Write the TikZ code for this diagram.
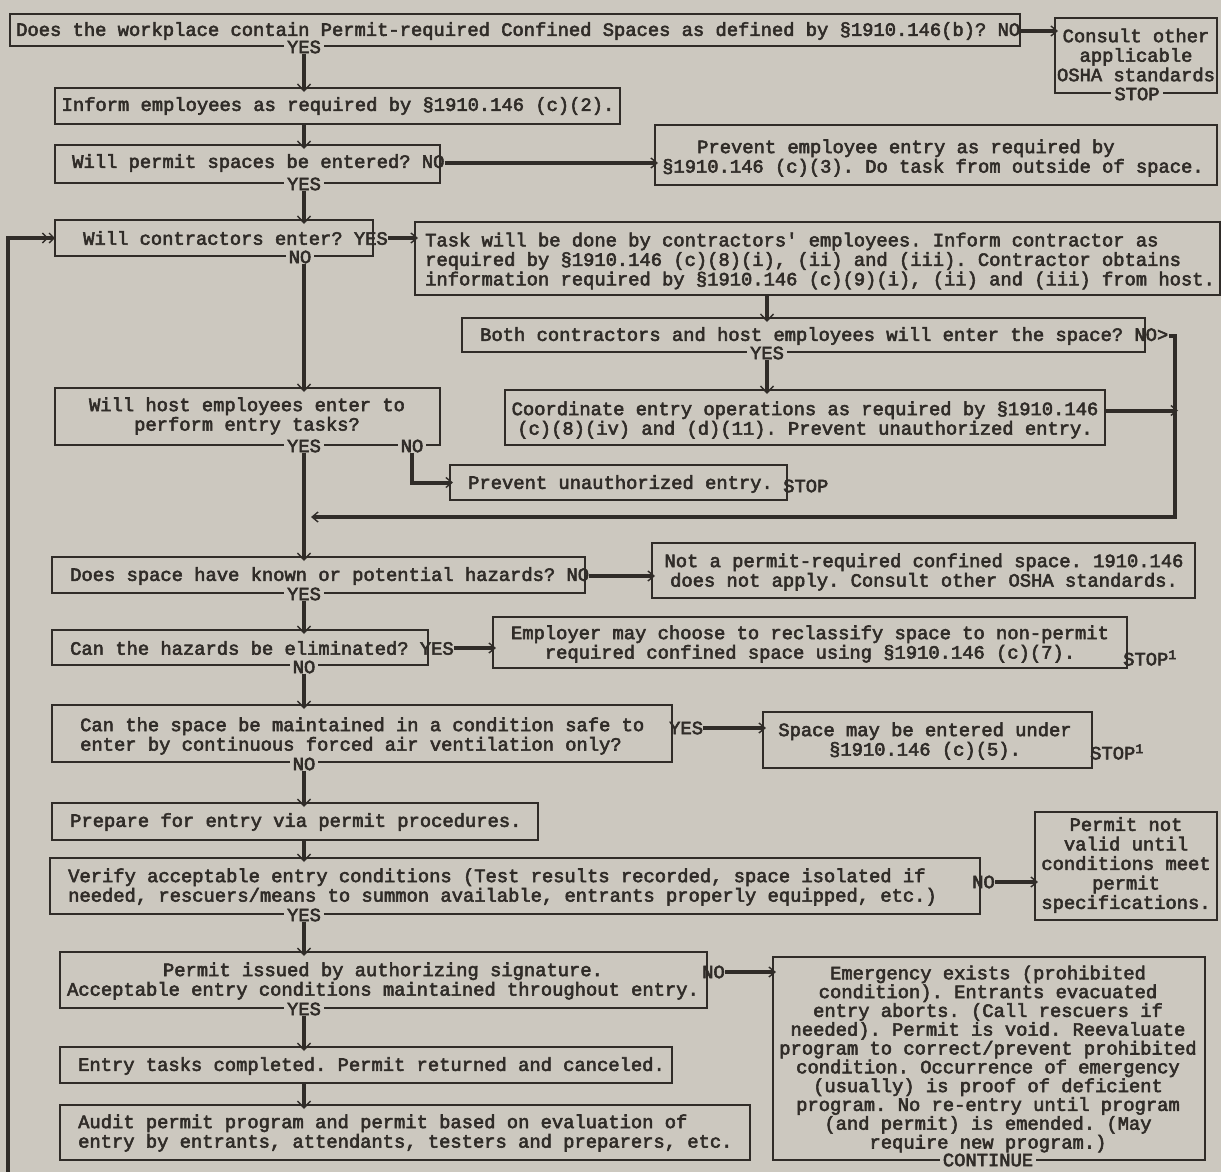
\documentclass[tikz,border=0pt]{standalone}
\usepackage{fontspec}
\usetikzlibrary{arrows.meta}
\newfontfamily\twfont{Liberation Mono}[FakeBold=3]
\definecolor{paper}{RGB}{204,200,191}
\definecolor{ink}{RGB}{48,44,40}
\newcommand\mkbox[5]{%
  \pgfmathsetlengthmacro\bxW{(#4)-(#2)}%
  \pgfmathsetlengthmacro\bxH{(#5)-(#3)}%
  \node[fbox, minimum width=\bxW, minimum height=\bxH] (#1) at ({((#2)+(#4))/2},{((#3)+(#5))/2}) {};}
\tikzset{
  fbox/.style={draw=ink, line width=1.8pt, inner sep=0pt, outer sep=0pt},
  txt/.style={font=\twfont\fontsize{18.8}{19.5}\selectfont\frenchspacing, text=ink, inner sep=0pt},
  tighttxt/.style={txt, font=\twfont\fontsize{18.8}{18.8}\selectfont\frenchspacing},
  lbl/.style={txt, fill=paper, inner xsep=3pt, inner ysep=0pt},
  vflow/.style={draw=ink, line width=3.5pt, -{Straight Barb[length=7pt,width=13pt,line width=1.4pt]}, shorten >=-4pt},
  hflow/.style={draw=ink, line width=4pt, -{Straight Barb[length=6pt,width=10pt,line width=1.4pt]}, shorten >=-3pt},
  retflow/.style={draw=ink, line width=3.5pt, -{Straight Barb[length=6pt,width=10pt,line width=1.4pt]}},
  loopflow/.style={draw=ink, line width=4pt, -{Straight Barb[length=5pt,width=10pt,line width=1.4pt] Straight Barb[length=5pt,width=10pt,line width=1.4pt]}},
}
\begin{document}
\begin{tikzpicture}[x=1pt,y=-1pt]
\useasboundingbox (0,0) rectangle (1221,1172);
\fill[paper] (0,0) rectangle (1221,1172);
\coordinate (sp) at (304,0);
\coordinate (sp2) at (767,0);
\coordinate (rc) at (1175,0);
\coordinate (ret) at (311,517);
\coordinate (lb) at (8,1172);

% ---- boxes and texts
\mkbox{q1}{10}{14}{1020}{46}
\node[txt, anchor=west] (q1t) at (16,31) {Does the workplace contain Permit-required Confined Spaces as defined by §1910.146(b)? NO};
\node[lbl] (yes1) at (304,47) {YES};

\mkbox{consult}{1055}{18}{1217}{93}
\node[txt, align=center] (consultt) at (1136,55) {Consult other\\applicable\\OSHA standards};
\node[lbl] (stop1) at (1137,94) {STOP};

\mkbox{inform}{55}{88}{620}{124}
\node[txt] (informt) at (338,106) {Inform employees as required by §1910.146 (c)(2).};

\mkbox{q2}{55}{145}{440}{183}
\node[txt, anchor=west] (q2t) at (72,163) {Will permit spaces be entered? NO};
\node[lbl] (yes2) at (304,184) {YES};

\mkbox{prevemp}{655}{125}{1217}{185}
\node[txt, anchor=west, align=left] (prevempt) at (662,158) {\hspace*{35pt}Prevent employee entry as required by\\§1910.146 (c)(3). Do task from outside of space.};

\mkbox{q3}{55}{220}{373}{256}
\node[txt, anchor=west] (q3t) at (83,238) {Will contractors enter? YES};
\node[lbl] (no3) at (300,257) {NO};

\mkbox{task}{415}{222}{1220}{295}
\node[txt, anchor=west, align=left] (taskt) at (425,261) {Task will be done by contractors' employees. Inform contractor as\\required by §1910.146 (c)(8)(i), (ii) and (iii). Contractor obtains\\information required by §1910.146 (c)(9)(i), (ii) and (iii) from host.};

\mkbox{both}{462}{318}{1145}{352}
\node[txt, anchor=west] (botht) at (480,336) {Both contractors and host employees will enter the space? NO>};
\node[lbl] (yes5) at (767,353) {YES};

\mkbox{coord}{505}{390}{1105}{445}
\node[txt, align=center] (coordt) at (805,420) {Coordinate entry operations as required by §1910.146\\(c)(8)(iv) and (d)(11). Prevent unauthorized entry.};

\mkbox{host}{55}{388}{440}{445}
\node[txt, align=center] (hostt) at (247,416) {Will host employees enter to\\perform entry tasks?};
\node[lbl] (yes4) at (304,446) {YES};
\node[lbl] (no4) at (412,446) {NO};

\mkbox{prevun}{450}{465}{787}{500}
\node[txt, anchor=west] (prevunt) at (468,484) {Prevent unauthorized entry.};
\node[txt, anchor=west] (stop2) at (783,486) {STOP};

\mkbox{q5}{52}{557}{585}{593}
\node[txt, anchor=west] (q5t) at (70,576) {Does space have known or potential hazards? NO};
\node[lbl] (yes6) at (304,594) {YES};

\mkbox{notp}{652}{543}{1195}{598}
\node[txt, align=center] (notpt) at (924,572) {Not a permit-required confined space. 1910.146\\does not apply. Consult other OSHA standards.};

\mkbox{q6}{52}{630}{428}{665}
\node[txt, anchor=west] (q6t) at (70,648) {Can the hazards be eliminated? YES};
\node[lbl] (no6) at (304,667) {NO};

\mkbox{empl}{493}{617}{1127}{668}
\node[txt, align=center] (emplt) at (810,644) {Employer may choose to reclassify space to non-permit\\required confined space using §1910.146 (c)(7).};
\node[txt, anchor=west] (stop3) at (1123,658) {STOP\textsuperscript{1}};

\mkbox{q7}{52}{705}{672}{762}
\node[txt, anchor=west, align=left] (q7t) at (80,736) {Can the space be maintained in a condition safe to\\enter by continuous forced air ventilation only?};
\node[txt, anchor=west] (yes7) at (669,728) {YES};
\node[lbl] (no7) at (304,764) {NO};

\mkbox{space}{763}{712}{1092}{768}
\node[txt, align=center] (spacet) at (925,741) {Space may be entered under\\§1910.146 (c)(5).};
\node[txt, anchor=west] (stop4) at (1090,752) {STOP\textsuperscript{1}};

\mkbox{q8}{52}{803}{538}{840}
\node[txt, anchor=west] (q8t) at (70,822) {Prepare for entry via permit procedures.};

\mkbox{q9}{50}{858}{980}{914}
\node[txt, anchor=west, align=left] (q9t) at (68,887) {Verify acceptable entry conditions (Test results recorded, space isolated if\\needed, rescuers/means to summon available, entrants properly equipped, etc.)};
\node[lbl] (yes9) at (304,915) {YES};
\node[txt, anchor=west] (no9) at (972,882) {NO};

\mkbox{pnv}{1035}{812}{1217}{920}
\node[txt, align=center] (pnvt) at (1126,865) {Permit not\\valid until\\conditions meet\\permit\\specifications.};

\mkbox{q10}{60}{952}{707}{1008}
\node[txt, align=center] (q10t) at (383,981) {Permit issued by authorizing signature.\\Acceptable entry conditions maintained throughout entry.};
\node[lbl] (yes10) at (304,1009) {YES};
\node[txt, anchor=west] (no10) at (702,972) {NO};

\mkbox{emerg}{773}{957}{1205}{1160}
\node[tighttxt, align=center] (emergt) at (988,1059) {Emergency exists (prohibited\\condition). Entrants evacuated\\entry aborts. (Call rescuers if\\needed). Permit is void. Reevaluate\\program to correct/prevent prohibited\\condition. Occurrence of emergency\\(usually) is proof of deficient\\program. No re-entry until program\\(and permit) is emended. (May\\require new program.)};
\node[lbl] (cont) at (988,1160) {CONTINUE};

\mkbox{q11}{60}{1047}{672}{1083}
\node[txt, anchor=west] (q11t) at (78,1066) {Entry tasks completed. Permit returned and canceled.};

\mkbox{q12}{60}{1105}{750}{1160}
\node[txt, anchor=west, align=left] (q12t) at (78,1133) {Audit permit program and permit based on evaluation of\\entry by entrants, attendants, testers and preparers, etc.};

% ---- connectors
\draw[hflow] (q1t.east) -- (q1t.east -| consult.west);
\draw[vflow] (yes1.south) -- (yes1.south |- inform.north);
\draw[vflow] (inform.south -| sp) -- (q2.north -| sp);
\draw[hflow] (q2t.east) -- (q2t.east -| prevemp.west);
\draw[vflow] (yes2.south) -- (yes2.south |- q3.north);
\draw[loopflow] (lb) |- (q3.west);
\draw[hflow] (q3t.east) -- (q3t.east -| task.west);
\draw[vflow] (task.south -| sp2) -- (both.north -| sp2);
\draw[vflow] (yes5.south) -- (yes5.south |- coord.north);
\draw[retflow] (botht.east) -| (rc |- ret) -- (ret);
\draw[hflow] ([yshift=7pt]coord.east) -- ([yshift=7pt]coord.east -| rc);
\draw[vflow] (no3.south -| sp) -- (host.north -| sp);
\draw[hflow] (no4.south) |- (prevun.west);
\draw[vflow] (yes4.south) -- (yes4.south |- q5.north);
\draw[hflow] (q5t.east) -- (q5t.east -| notp.west);
\draw[vflow] (yes6.south) -- (yes6.south |- q6.north);
\draw[hflow] (q6t.east) -- (q6t.east -| empl.west);
\draw[vflow] (no6.south -| sp) -- (q7.north -| sp);
\draw[hflow] (yes7.east) -- (yes7.east -| space.west);
\draw[vflow] (no7.south -| sp) -- (q8.north -| sp);
\draw[vflow] (q8.south -| sp) -- (q9.north -| sp);
\draw[hflow] (no9.east) -- (no9.east -| pnv.west);
\draw[vflow] (yes9.south -| sp) -- (q10.north -| sp);
\draw[hflow] (no10.east) -- (no10.east -| emerg.west);
\draw[vflow] (yes10.south -| sp) -- (q11.north -| sp);
\draw[vflow] (q11.south -| sp) -- (q12.north -| sp);
\end{tikzpicture}
\end{document}
